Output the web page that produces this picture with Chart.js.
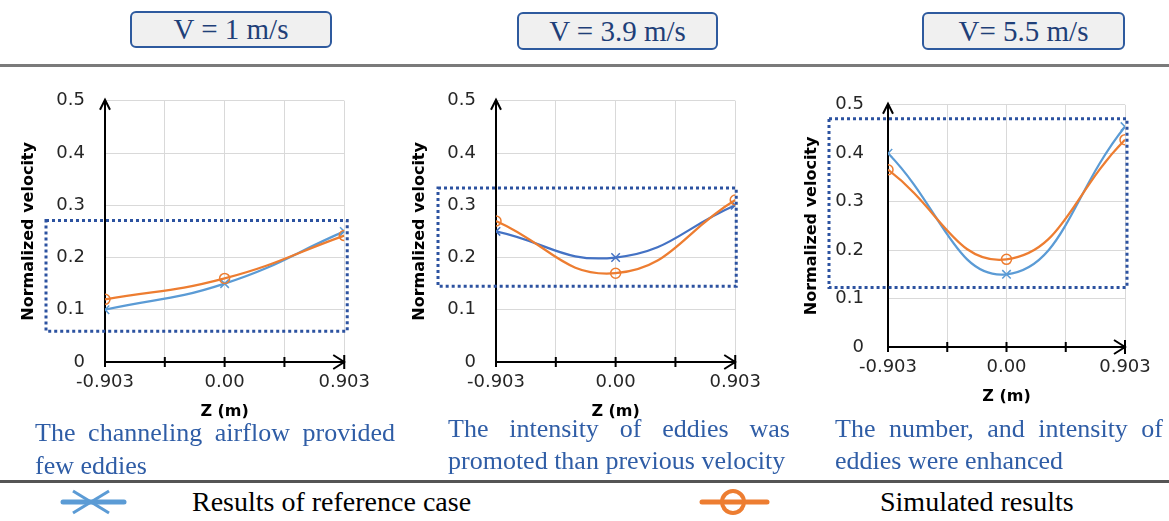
<!DOCTYPE html>
<html>
<head>
<meta charset="utf-8">
<script src="https://cdn.jsdelivr.net/npm/chart.js@4.4.1/dist/chart.umd.min.js"></script>
<style>
  body { margin: 0; width: 1169px; height: 521px; background: #fff; position: relative; overflow: hidden; font-family: "Liberation Serif", "Times New Roman", serif; }
  .hdr { position: absolute; box-sizing: border-box; border: 2px solid #2E5A9E; border-radius: 6px; background: #f0f0f0; color: #1F3F78; font-size: 29px; text-align: center; }
  .rule { position: absolute; left: 0; width: 1169px; }
  .panel { position: absolute; }
  .cap { position: absolute; color: #2F5DA6; font-size: 26px; white-space: nowrap; }
  .cap .l1 { text-align: justify; text-align-last: justify; white-space: normal; }
  .leg { position: absolute; font-size: 28px; line-height: 36px; color: #000; }
  svg { position: absolute; }
</style>
</head>
<body>

<div class="hdr" style="left:130px;top:11px;width:202px;height:37px;line-height:33px;">V = 1 m/s</div>
<div class="hdr" style="left:517px;top:12px;width:201px;height:38px;line-height:34px;">V = 3.9 m/s</div>
<div class="hdr" style="left:922px;top:12px;width:203px;height:38px;line-height:34px;">V= 5.5 m/s</div>
<div class="rule" style="top:64px;height:3px;background:#7a7a7a;"></div>

<canvas id="c1" class="panel" width="380" height="355" style="left:0px;top:70px;"></canvas>
<canvas id="c2" class="panel" width="380" height="355" style="left:391px;top:70px;"></canvas>
<canvas id="c3" class="panel" width="389" height="340" style="left:780px;top:70px;"></canvas>

<div class="cap" style="left:35px;top:416px;width:360px;line-height:33px;">
  <div class="l1">The channeling airflow provided</div>
  <div>few eddies</div>
</div>
<div class="cap" style="left:448px;top:413px;width:342px;line-height:32px;">
  <div class="l1">The intensity of eddies was</div>
  <div>promoted than previous velocity</div>
</div>
<div class="cap" style="left:835px;top:413px;width:328px;line-height:32px;">
  <div class="l1">The number, and intensity of</div>
  <div>eddies were enhanced</div>
</div>

<div class="rule" style="top:480px;height:3px;background:#555;"></div>

<svg style="left:55px;top:486px" width="80" height="32">
  <line x1="8" y1="16" x2="69" y2="16" stroke="#5B9BD5" stroke-width="5" stroke-linecap="round"/>
  <line x1="18" y1="5" x2="54" y2="27" stroke="#5B9BD5" stroke-width="3"/>
  <line x1="18" y1="27" x2="54" y2="5" stroke="#5B9BD5" stroke-width="3"/>
</svg>
<div class="leg" style="left:192px;top:484px;">Results of reference case</div>
<svg style="left:695px;top:486px" width="80" height="32">
  <line x1="7" y1="16" x2="72" y2="16" stroke="#ED7D31" stroke-width="5" stroke-linecap="round"/>
  <circle cx="38" cy="16" r="11" fill="none" stroke="#ED7D31" stroke-width="4"/>
</svg>
<div class="leg" style="left:880px;top:484px;">Simulated results</div>

<script>
// Z positions and x-axis ticks
const zPos = [-0.903, 0, 0.903];
const xGridTicks = [-0.903, -0.4515, 0, 0.4515, 0.903];
const xTickLabels = ['-0.903', '', '0.00', '', '0.903'];

// V = 1 m/s
const refV1 = [0.10, 0.15, 0.25];
const simV1 = [0.12, 0.16, 0.242];
// V = 3.9 m/s
const refV39 = [0.25, 0.20, 0.30];
const simV39 = [0.27, 0.17, 0.31];
// V = 5.5 m/s
const refV55 = [0.40, 0.15, 0.455];
const simV55 = [0.366, 0.181, 0.428];

// highlighted velocity band (dotted box), [low, high]
const bandV1 = [0.059, 0.271];
const bandV39 = [0.145, 0.333];
const bandV55 = [0.123, 0.471];

const tickFont = { family: 'DejaVu Sans', size: 18 };
const titleFont = { family: 'DejaVu Sans', size: 16, weight: 'bold' };

// axis arrows, crossing tick marks and the dotted highlight box
const axisDecor = {
    id: 'axisDecor',
    afterDraw(chart, args, opts) {
        const { ctx, chartArea: a, scales: { x, y } } = chart;
        ctx.save();
        ctx.strokeStyle = '#000';
        ctx.lineWidth = 2;
        ctx.beginPath();
        x.ticks.forEach((t, i) => {
            const px = x.getPixelForValue(t.value);
            const h = i === x.ticks.length - 1 ? 7 : 5;
            ctx.moveTo(px, a.bottom - h);
            ctx.lineTo(px, a.bottom + h);
        });
        // y arrow
        ctx.moveTo(a.left - 5, a.top + 9);
        ctx.lineTo(a.left, a.top - 1);
        ctx.lineTo(a.left + 5, a.top + 9);
        // x arrow
        ctx.moveTo(a.right - 11, a.bottom - 7);
        ctx.lineTo(a.right, a.bottom);
        ctx.lineTo(a.right - 11, a.bottom + 7);
        ctx.stroke();

        const [lo, hi] = opts.band;
        const top = y.getPixelForValue(hi), bot = y.getPixelForValue(lo);
        const left = a.left - opts.boxL, right = a.right + opts.boxR;
        ctx.setLineDash([3, 3]);
        ctx.strokeStyle = '#2C52A0';
        ctx.lineWidth = 3;
        ctx.strokeRect(left, top, right - left, bot - top);
        ctx.restore();
    }
};

function makeChart(id, ref, sim, refColor, band, lay) {
    return new Chart(document.getElementById(id), {
        type: 'line',
        data: {
            datasets: [
                {
                    label: 'Simulated results',
                    data: zPos.map((z, i) => ({ x: z, y: sim[i] })),
                    borderColor: '#ED7D31', borderWidth: 2.25,
                    pointStyle: 'circle', pointRadius: 5, pointBorderWidth: 1.5,
                    pointBorderColor: '#ED7D31', pointBackgroundColor: 'rgba(255,255,255,0)',
                    tension: 0.45, order: 1
                },
                {
                    label: 'Results of reference case',
                    data: zPos.map((z, i) => ({ x: z, y: ref[i] })),
                    borderColor: refColor, borderWidth: 2.25,
                    pointStyle: 'crossRot', pointRadius: 6, pointBorderWidth: 1.5,
                    pointBorderColor: refColor,
                    tension: 0.45, order: 2
                }
            ]
        },
        options: {
            responsive: false,
            animation: false,
            events: [],
            layout: { padding: { left: lay.padL, top: 18, right: lay.padR, bottom: 0 } },
            plugins: {
                legend: { display: false },
                tooltip: { enabled: false },
                axisDecor: { band, boxL: lay.boxL, boxR: lay.boxR }
            },
            scales: {
                x: {
                    type: 'linear', min: -0.903, max: 0.903,
                    afterBuildTicks: s => { s.ticks = xGridTicks.map(v => ({ value: v })); },
                    afterFit: s => { s.height = 63; },
                    ticks: { callback: (v, i) => xTickLabels[i], font: tickFont, color: '#262626', padding: 10, maxRotation: 0, autoSkip: false },
                    grid: { color: '#d9d9d9', drawTicks: false },
                    border: { color: '#000', width: 2 },
                    title: { display: true, text: 'Z (m)', font: titleFont, color: '#000' }
                },
                y: {
                    min: 0, max: 0.5,
                    afterFit: s => { s.width = 90; },
                    ticks: { stepSize: 0.1, font: tickFont, color: '#262626', padding: lay.yPad },
                    grid: { color: '#d9d9d9', drawTicks: false },
                    border: { color: '#000', width: 2 },
                    title: { display: true, text: 'Normalized velocity', font: titleFont, color: '#000' }
                }
            }
        },
        plugins: [axisDecor]
    });
}

makeChart('c1', refV1, simV1, '#5B9BD5', bandV1, { padL: 15, padR: 29, yPad: 20, boxL: 59, boxR: 3 });
makeChart('c2', refV39, simV39, '#4472C4', bandV39, { padL: 15, padR: 33, yPad: 20, boxL: 58, boxR: 1 });
makeChart('c3', refV55, simV55, '#5B9BD5', bandV55, { padL: 18, padR: 44, yPad: 24, boxL: 59, boxR: 2 });
</script>
</body>
</html>
